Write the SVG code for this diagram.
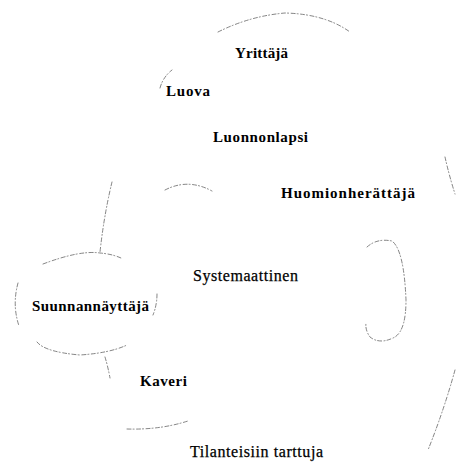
<svg xmlns="http://www.w3.org/2000/svg" width="456" height="464" viewBox="0 0 456 464">
<style>
.t{font-family:"Liberation Serif","Times New Roman",serif;fill:#000;}
.b{font-weight:bold;font-size:15px;}
.r{font-weight:normal;font-size:16px;stroke:#000;stroke-width:0.25;}
.c{fill:none;stroke:#666;stroke-width:0.8;stroke-dasharray:4 2 1 2.5;stroke-linecap:round;}
</style>
<rect width="456" height="464" fill="#fff"/>
<g id="connectors">
<path class="c" d="M218,32 Q250,16 285,13 Q325,14 350,32"/>
<path class="c" d="M160,88 Q163,77 172,70"/>
<path class="c" d="M445,157 Q449,175 455,194"/>
<path class="c" d="M165,190 Q188,178 212,191"/>
<path class="c" d="M112,182 Q104,215 100,252"/>
<path class="c" d="M43,264 Q80,250 100,253 Q112,254 121,258"/>
<path class="c" d="M18,283 Q12,305 19,326"/>
<path class="c" d="M157,294 Q157,305 153,315"/>
<path class="c" d="M37,342 Q45,352 80,355 Q110,353 127,345"/>
<path class="c" d="M105,357 Q108,367 110,378"/>
<path class="c" d="M127,429 Q160,430 188,421"/>
<path class="c" d="M367,247 Q377,238 392,241 Q404,250 406,300 Q406,330 395,337 Q380,345 370,337 Q365,330 366,323"/>
<path class="c" d="M455,370 Q444,410 428,450"/>
</g>
<g id="n-yrittaja"><text class="t b" x="235" y="58" textLength="53">Yrittäjä</text></g>
<g id="n-luova"><text class="t b" x="166" y="96" textLength="44">Luova</text></g>
<g id="n-luonnonlapsi"><text class="t b" x="213" y="142" textLength="95">Luonnonlapsi</text></g>
<g id="n-huomionherattaja"><text class="t b" x="281" y="198" textLength="134">Huomionherättäjä</text></g>
<g id="n-systemaattinen"><text class="t r" x="193" y="281" textLength="105">Systemaattinen</text></g>
<g id="n-suunnannayttaja"><text class="t b" x="32" y="311" textLength="117">Suunnannäyttäjä</text></g>
<g id="n-kaveri"><text class="t b" x="140" y="386" textLength="47">Kaveri</text></g>
<g id="n-tilanteisiin"><text class="t r" x="190" y="457" textLength="133">Tilanteisiin tarttuja</text></g>
</svg>
